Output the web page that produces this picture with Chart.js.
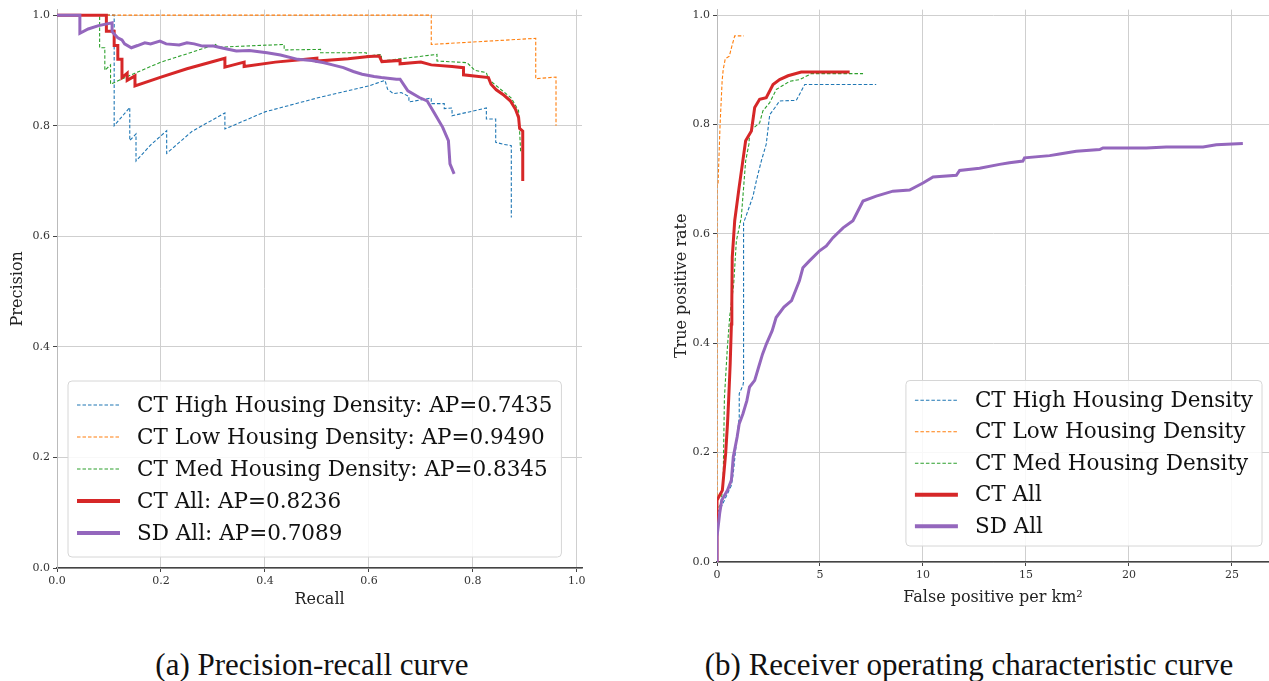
<!DOCTYPE html>
<html>
<head>
<meta charset="utf-8">
<script src="https://cdn.jsdelivr.net/npm/chart.js@4.4.1/dist/chart.umd.min.js"></script>
<style>
body{margin:0;background:#fff;width:1269px;height:681px;overflow:hidden;position:relative}
#wrapA{position:absolute;left:0;top:0;width:600px;height:615px}
#wrapB{position:absolute;left:640px;top:0;width:629px;height:615px}
.cap{position:absolute;top:648px;font-family:"Liberation Serif",serif;font-size:31px;line-height:34px;color:#111;white-space:nowrap;text-align:center;width:600px}
</style>
</head>
<body>
<div id="wrapA"><canvas id="pr" width="600" height="615"></canvas></div>
<div id="wrapB"><canvas id="roc" width="629" height="615"></canvas></div>
<div class="cap" style="left:12px">(a) Precision-recall curve</div>
<div class="cap" style="left:669px">(b) Receiver operating characteristic curve</div>
<script>
// legend labels
var prLabels = ["CT High Housing Density: AP=0.7435", "CT Low Housing Density: AP=0.9490",
    "CT Med Housing Density: AP=0.8345", "CT All: AP=0.8236", "SD All: AP=0.7089"];
var rocLabels = ["CT High Housing Density", "CT Low Housing Density", "CT Med Housing Density", "CT All", "SD All"];

// precision-recall curves, [recall, precision]
var prHigh = [[0,1],[0.11,1],[0.11,0.80],[0.14,0.833],[0.14,0.773],[0.152,0.785],[0.152,0.736],[0.18,0.765],[0.211,0.791],
    [0.211,0.75],[0.26,0.79],[0.323,0.823],[0.323,0.794],[0.4,0.825],[0.5,0.85],[0.6,0.872],[0.631,0.882],[0.636,0.866],
    [0.647,0.858],[0.662,0.86],[0.677,0.853],[0.677,0.843],[0.72,0.85],[0.72,0.84],[0.745,0.84],[0.745,0.831],[0.76,0.832],
    [0.76,0.818],[0.826,0.832],[0.826,0.812],[0.844,0.812],[0.844,0.77],[0.86,0.766],[0.874,0.764],[0.874,0.634]];
var prLow = [[0,1],[0.72,1],[0.72,0.947],[0.921,0.958],[0.921,0.885],[0.96,0.888],[0.96,0.80]];
var prMed = [[0,1],[0.082,1],[0.082,0.941],[0.092,0.941],[0.092,0.9],[0.103,0.91],[0.103,0.875],[0.15,0.895],[0.2,0.915],
    [0.25,0.93],[0.305,0.947],[0.31,0.942],[0.437,0.947],[0.437,0.937],[0.507,0.938],[0.507,0.932],[0.595,0.932],[0.595,0.926],
    [0.624,0.929],[0.624,0.917],[0.731,0.929],[0.731,0.917],[0.789,0.914],[0.804,0.9],[0.826,0.896],[0.83,0.884],[0.874,0.85],
    [0.888,0.827],[0.892,0.752]];
var prAll = [[0,1],[0.095,1],[0.095,0.971],[0.11,0.971],[0.11,0.945],[0.117,0.945],[0.117,0.92],[0.125,0.92],[0.125,0.887],
    [0.135,0.895],[0.135,0.882],[0.15,0.89],[0.15,0.872],[0.2,0.888],[0.25,0.903],[0.323,0.922],[0.323,0.906],[0.36,0.915],
    [0.36,0.907],[0.42,0.915],[0.5,0.922],[0.5,0.917],[0.56,0.921],[0.6,0.925],[0.62,0.926],[0.625,0.916],[0.66,0.918],
    [0.66,0.912],[0.7,0.915],[0.72,0.91],[0.76,0.907],[0.782,0.905],[0.782,0.892],[0.83,0.887],[0.835,0.875],[0.845,0.865],
    [0.86,0.855],[0.872,0.845],[0.882,0.83],[0.888,0.815],[0.89,0.795],[0.896,0.79],[0.896,0.70]];
var prSD = [[0,1],[0.044,1],[0.044,0.967],[0.06,0.975],[0.08,0.981],[0.106,0.986],[0.106,0.97],[0.117,0.959],[0.125,0.955],
    [0.13,0.948],[0.143,0.941],[0.155,0.945],[0.169,0.95],[0.18,0.948],[0.198,0.953],[0.21,0.948],[0.235,0.946],[0.25,0.95],
    [0.264,0.948],[0.28,0.944],[0.301,0.944],[0.32,0.94],[0.345,0.935],[0.37,0.936],[0.404,0.932],[0.43,0.928],[0.463,0.92],
    [0.49,0.918],[0.514,0.914],[0.53,0.91],[0.551,0.905],[0.57,0.898],[0.587,0.893],[0.61,0.889],[0.624,0.887],[0.653,0.884],
    [0.66,0.884],[0.675,0.863],[0.697,0.851],[0.712,0.845],[0.727,0.821],[0.742,0.797],[0.753,0.773],[0.756,0.731],[0.764,0.713]];

// ROC curves, [false positive per km2, true positive rate]
var rocHigh = [[0,0],[0,0.09],[0.2,0.1],[0.45,0.12],[0.7,0.14],[0.79,0.162],[0.89,0.2],[1.08,0.265],[1.08,0.308],[1.26,0.323],
    [1.29,0.33],[1.29,0.62],[1.5,0.642],[1.75,0.669],[1.91,0.697],[2.15,0.733],[2.39,0.764],[2.56,0.818],[2.8,0.83],[3.04,0.843],
    [3.85,0.844],[4.26,0.873],[7.73,0.873]];
var rocLow = [[0,0],[0,0.69],[0.05,0.69],[0.15,0.8],[0.25,0.88],[0.3,0.9],[0.4,0.92],[0.6,0.925],[0.7,0.94],[0.86,0.962],[1.3,0.962]];
var rocMed = [[0,0],[0,0.095],[0.2,0.107],[0.3,0.15],[0.36,0.3],[0.5,0.39],[0.62,0.45],[0.81,0.508],[0.94,0.587],[1.18,0.63],
    [1.39,0.733],[1.55,0.764],[1.59,0.788],[2.07,0.803],[2.23,0.825],[2.56,0.84],[2.88,0.864],[3.53,0.879],[4.01,0.882],
    [4.58,0.893],[7.09,0.893]];
var rocAll = [[0,0],[0,0.113],[0.13,0.122],[0.26,0.131],[0.32,0.156],[0.42,0.198],[0.51,0.253],[0.57,0.3],[0.64,0.362],
    [0.7,0.435],[0.72,0.477],[0.74,0.557],[0.86,0.624],[1.07,0.684],[1.23,0.727],[1.39,0.77],[1.67,0.788],[1.83,0.831],
    [2.07,0.846],[2.39,0.849],[2.72,0.873],[3.04,0.882],[3.45,0.889],[4.09,0.896],[6.44,0.896]];
var rocSD = [[0,0],[0,0.046],[0.13,0.089],[0.23,0.113],[0.51,0.131],[0.7,0.15],[0.79,0.192],[0.98,0.229],[1.08,0.253],
    [1.26,0.271],[1.45,0.295],[1.58,0.32],[1.83,0.332],[2.02,0.356],[2.21,0.38],[2.4,0.399],[2.68,0.423],[2.87,0.447],
    [3.25,0.466],[3.62,0.478],[3.81,0.496],[4.0,0.514],[4.17,0.538],[4.5,0.551],[4.98,0.569],[5.31,0.578],[5.63,0.593],
    [6.12,0.611],[6.6,0.624],[7.09,0.66],[7.73,0.669],[8.54,0.678],[9.35,0.68],[10.0,0.693],[10.49,0.704],[11.62,0.707],
    [11.78,0.716],[12.75,0.72],[13.72,0.727],[14.2,0.73],[14.85,0.733],[14.93,0.739],[16.15,0.743],[16.63,0.746],
    [17.44,0.751],[18.58,0.754],[18.74,0.757],[20.84,0.757],[21.81,0.759],[23.6,0.759],[24.24,0.763],[25.53,0.765]];

var unitTicks = [0, 0.2, 0.4, 0.6, 0.8, 1.0];
var fpTicks = [0, 5, 10, 15, 20, 25];

var colors = ["#1f77b4", "#ff7f0e", "#2ca02c", "#d62728", "#9467bd"];
var serif = "'DejaVu Serif', serif";

function pts(arr) {
    return arr.map(function (p) { return {x: p[0], y: p[1]}; });
}

function makeSets(series, labels) {
    return series.map(function (s, i) {
        var thick = i >= 3;
        return {
            label: labels[i],
            data: pts(s),
            showLine: true,
            borderColor: colors[i],
            backgroundColor: colors[i],
            borderWidth: thick ? 3 : 1.1,
            borderDash: thick ? [] : [3.5, 2],
            pointRadius: 0,
            tension: 0,
            order: 5 - i
        };
    });
}

// legend box drawn inside the plot area
var legendBox = {
    id: 'legendBox',
    afterDraw: function (chart, args, o) {
        var ctx = chart.ctx, a = chart.chartArea, sets = chart.data.datasets;
        ctx.save();
        ctx.font = o.size + "px " + serif;
        var tw = 0;
        sets.forEach(function (d) { tw = Math.max(tw, ctx.measureText(d.label).width); });
        var w = o.pad * 2 + o.handle + o.gap + tw, h = o.padY * 2 + o.row * sets.length;
        var x = o.side === 'left' ? a.left + o.dx : a.right - o.dx - w;
        var y = a.bottom - o.dy - h;
        ctx.beginPath();
        ctx.roundRect(x, y, w, h, 4);
        ctx.fillStyle = 'rgba(255,255,255,0.85)';
        ctx.fill();
        ctx.strokeStyle = '#d6d6d6';
        ctx.lineWidth = 1;
        ctx.stroke();
        sets.forEach(function (d, i) {
            var cy = y + o.padY + o.row * (i + 0.5);
            ctx.beginPath();
            ctx.setLineDash(d.borderDash);
            ctx.strokeStyle = d.borderColor;
            ctx.lineWidth = d.borderWidth + (d.borderWidth > 2 ? 1 : 0);
            ctx.moveTo(x + o.pad, cy);
            ctx.lineTo(x + o.pad + o.handle, cy);
            ctx.stroke();
            ctx.setLineDash([]);
            ctx.fillStyle = '#111';
            ctx.textBaseline = 'middle';
            ctx.fillText(d.label, x + o.pad + o.handle + o.gap, cy + 1);
        });
        ctx.restore();
    }
};

function axis(min, max, ticks, title, fmt, fit) {
    return {
        type: 'linear', min: min, max: max,
        afterBuildTicks: function (s) { s.ticks = ticks.map(function (v) { return {value: v}; }); },
        afterFit: fit,
        ticks: {
            font: {family: serif, size: 11}, color: '#333', padding: 3,
            callback: fmt
        },
        grid: {color: '#cfcfcf', lineWidth: 1, tickLength: 4, tickColor: '#444'},
        title: {display: true, text: title, font: {family: serif, size: 16}, color: '#222', padding: {top: 2, bottom: 0}}
    };
}

function oneDec(v) { return v.toFixed(1); }
function noDec(v) { return String(v); }

new Chart(document.getElementById('pr'), {
    type: 'scatter',
    data: {datasets: makeSets([prHigh, prLow, prMed, prAll, prSD], prLabels)},
    options: {
        responsive: false, animation: false,
        layout: {padding: {left: 6, top: 8, right: 18, bottom: 6}},
        scales: {
            x: Object.assign(axis(0, 1.01, unitTicks, 'Recall', oneDec, function (s) { s.height = 41; }),
                {border: {color: '#444', width: 1.5}}),
            y: Object.assign(axis(0, 1.01, unitTicks, 'Precision', oneDec, function (s) { s.width = 51; }),
                {border: {color: '#bbb', width: 1}})
        },
        plugins: {
            legend: {display: false}, tooltip: {enabled: false},
            legendBox: {side: 'left', dx: 11, dy: 11, pad: 9, padY: 8, handle: 43, gap: 17, row: 32, size: 21.5}
        }
    },
    plugins: [legendBox]
});

new Chart(document.getElementById('roc'), {
    type: 'scatter',
    data: {datasets: makeSets([rocHigh, rocLow, rocMed, rocAll, rocSD], rocLabels)},
    options: {
        responsive: false, animation: false,
        layout: {padding: {left: 30, top: 8, right: 0, bottom: 8}},
        scales: {
            x: Object.assign(axis(0, 26.8, fpTicks, 'False positive per km\u00b2', noDec, function (s) { s.height = 45; }),
                {border: {color: '#444', width: 1.5}}),
            y: Object.assign(axis(0, 1.01, unitTicks, 'True positive rate', oneDec, function (s) { s.width = 47; }),
                {border: {color: '#bbb', width: 1}})
        },
        plugins: {
            legend: {display: false}, tooltip: {enabled: false},
            legendBox: {side: 'right', dx: 7, dy: 16, pad: 9, padY: 4, handle: 43, gap: 17, row: 31.5, size: 21.5}
        }
    },
    plugins: [legendBox]
});
</script>
</body>
</html>
